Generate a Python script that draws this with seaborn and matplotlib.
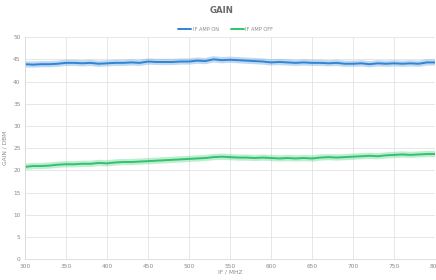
import numpy as np
import pandas as pd
import seaborn as sns
import matplotlib
matplotlib.use("Agg")
import matplotlib.pyplot as plt

# frequency IF / MHz
freq = list(range(300, 801, 10))

gain_on = [43.9, 43.8, 43.9, 43.9, 44.0, 44.2, 44.2, 44.1, 44.2, 44.0,
           44.1, 44.2, 44.2, 44.3, 44.2, 44.5, 44.4, 44.4, 44.4, 44.5,
           44.5, 44.7, 44.6, 45.0, 44.8, 44.9, 44.8, 44.7, 44.6, 44.5,
           44.3, 44.4, 44.3, 44.2, 44.3, 44.2, 44.2, 44.1, 44.2, 44.0,
           44.0, 44.1, 43.9, 44.1, 44.0, 44.1, 44.0, 44.1, 44.0, 44.3, 44.3]

gain_off = [20.8, 21.0, 21.0, 21.1, 21.3, 21.4, 21.4, 21.5, 21.5, 21.7,
            21.6, 21.8, 21.9, 21.9, 22.0, 22.1, 22.2, 22.3, 22.4, 22.5,
            22.6, 22.7, 22.8, 23.0, 23.1, 23.0, 22.9, 22.9, 22.8, 22.9,
            22.8, 22.7, 22.8, 22.7, 22.8, 22.7, 22.9, 23.0, 22.9, 23.0,
            23.1, 23.2, 23.3, 23.2, 23.4, 23.5, 23.6, 23.5, 23.6, 23.7, 23.7]

series = ["IF AMP ON", "IF AMP OFF"]
colors = {"IF AMP ON": "#2f84d4", "IF AMP OFF": "#2fc46c"}

df = pd.DataFrame({
    "freq": freq * 2,
    "gain": gain_on + gain_off,
    "serie": [series[0]] * len(freq) + [series[1]] * len(freq),
})

sns.set_style("white")
plt.rcParams['font.family'] = ['DejaVu Sans']

fig = plt.figure(figsize=(4.36, 2.80), dpi=100)
ax = fig.add_axes([0.057, 0.0736, 0.941, 0.794])

# glow
sns.lineplot(data=df, x="freq", y="gain", hue="serie", palette=colors,
             linewidth=4.5, alpha=0.3, legend=False, ax=ax)
sns.lineplot(data=df, x="freq", y="gain", hue="serie", palette=colors,
             linewidth=1.4, ax=ax)

ax.set_xlim(300, 800)
ax.set_ylim(0, 50)
ax.set_xticks(range(300, 801, 50))
ax.set_yticks(range(0, 51, 5))
ax.grid(True, color="#e3e3e3", linewidth=0.6)
for s in ["top", "right"]:
    ax.spines[s].set_visible(False)
for s in ["left", "bottom"]:
    ax.spines[s].set_color("#d9d9d9")
    ax.spines[s].set_linewidth(0.6)
ax.tick_params(labelsize=4.2, colors="#8a8a8a", length=0, pad=3)

ax.set_xlabel("IF / MHZ", fontsize=4.2, color="#8a8a8a", labelpad=1)
ax.set_ylabel("GAIN / DBM", fontsize=4.2, color="#8a8a8a", labelpad=4)

fig.text(0.508, 0.962, "GAIN", ha="center", va="center", fontsize=6.2,
         fontweight="bold", color="#6b6b6b")

handles, labels = ax.get_legend_handles_labels()
leg = ax.legend(handles, labels, loc="center", bbox_to_anchor=(0.49, 1.035),
                ncol=2, frameon=False, fontsize=3.6, handlelength=2.6,
                columnspacing=2.4, handletextpad=0.3)
for t in leg.get_texts():
    t.set_color("#8a8a8a")

fig.savefig("out.png", dpi=100)
